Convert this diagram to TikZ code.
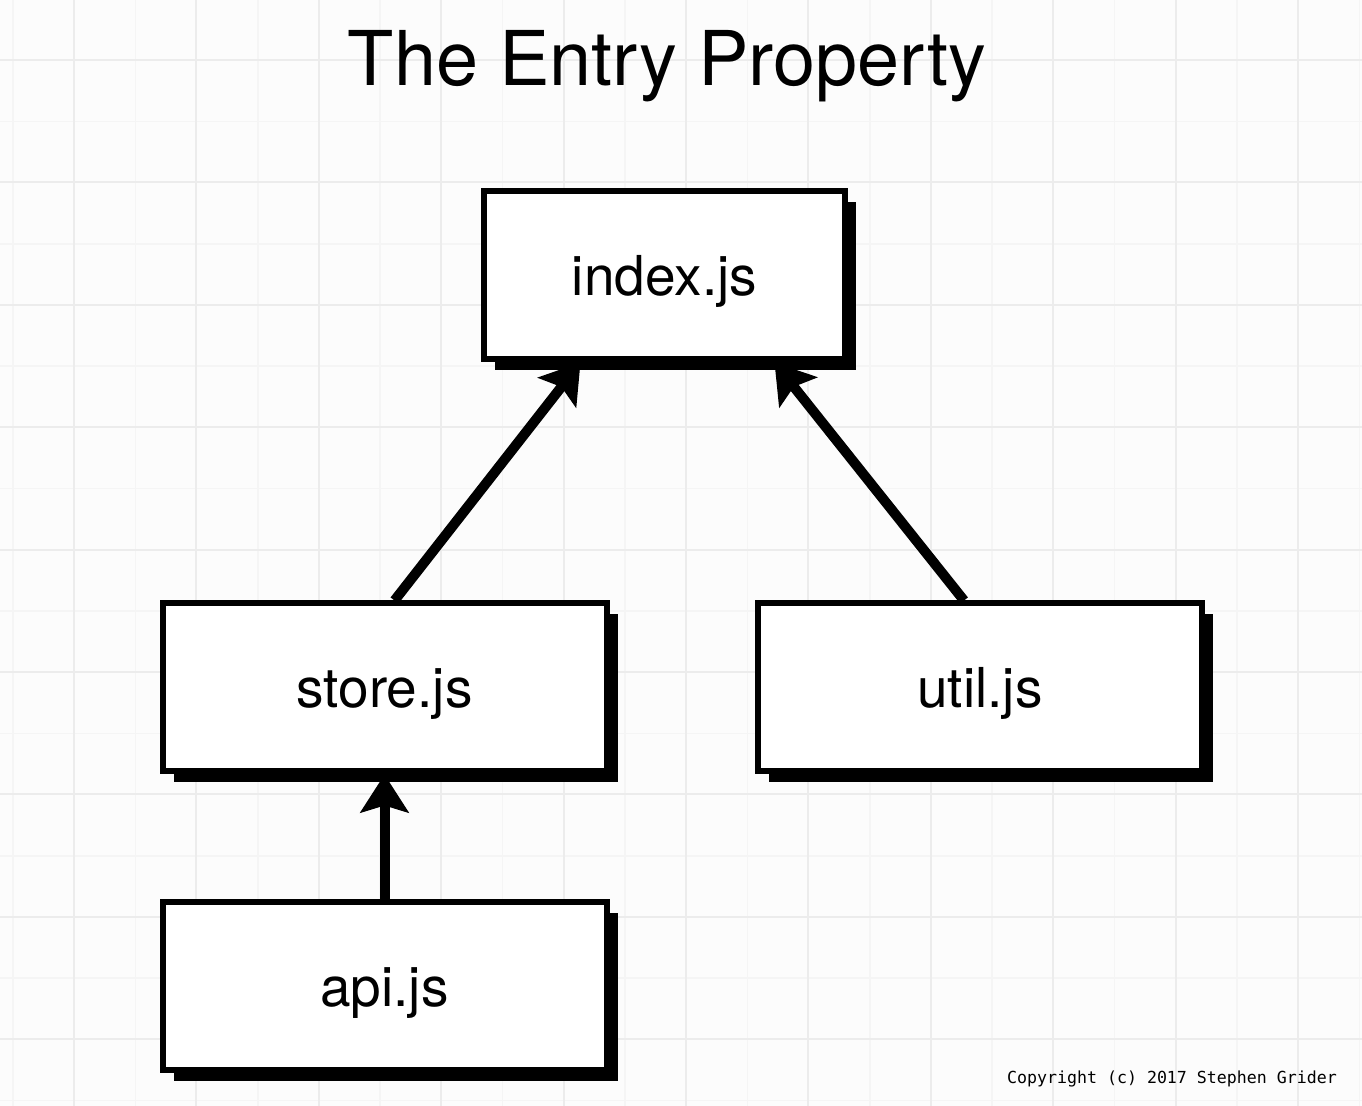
\documentclass[tikz,border=0pt]{standalone}
\usepackage{fontspec}
\setmainfont{TeX Gyre Heros}
\newfontfamily\copyfont{DejaVu Sans Mono}
\usetikzlibrary{arrows.meta,shadows,positioning}
\definecolor{paper}{HTML}{FCFCFC}
\definecolor{gridmajor}{HTML}{ECECEC}
\definecolor{gridminor}{HTML}{F5F5F5}
\tikzstyle{box} = [rectangle, minimum width=222pt, minimum height=84pt, draw=black, line width=3pt, fill=white, align=center, text height=24pt, text depth=4pt, font=\fontsize{27.5}{30}\selectfont, drop shadow={fill=black, opacity=1, shadow xshift=5.5pt, shadow yshift=-5.5pt}]
\tikzstyle{arrow} = [line width=5pt, -{Stealth[length=19pt,width=24pt,inset=3.5pt]}]
\tikzstyle{minorline} = [draw=gridminor, line width=0.8pt]
\tikzstyle{majorline} = [draw=gridmajor, line width=1pt]

\begin{document}
\begin{tikzpicture}[x=0.5pt, y=-0.5pt, node distance=1cm]
        % paper and grid
        \useasboundingbox (0,0) rectangle (1362,1106);
        \fill[paper] (0,0) rectangle (1362,1106);
        \foreach \i in {0,...,22} \draw[minorline] ({13+61.2*\i},0) -- ({13+61.2*\i},1106);
        \foreach \i in {0,...,18} \draw[minorline] (0,{-1+61.2*\i}) -- (1362,{-1+61.2*\i});
        \foreach \i in {0,...,10} \draw[majorline] ({74+122.4*\i},0) -- ({74+122.4*\i},1106);
        \foreach \i in {0,...,8} \draw[majorline] (0,{60+122.4*\i}) -- (1362,{60+122.4*\i});
        
        \node (title) at (667,86) [anchor=base, font=\fontsize{37.8}{40}\selectfont] {The Entry Property};
        
        \node (index) [box, minimum width=180.5pt] at (664.5,275.5) {index.js};
        \node (store) [box] at (384.5,687.5) {store.js};
        \node (util) [box, right=72.75pt of store] {util.js};
        \node (api) [box, below=62.5pt of store] {api.js};
        
        \draw[arrow] ([xshift=5pt]store.north) -- ([xshift=-42pt]index.south);
        \draw[arrow] ([xshift=-8pt]util.north) -- ([xshift=55pt]index.south);
        \draw[arrow] (api) -- (store);
        
        \node (copy) at (1172,1079) [font=\copyfont\fontsize{8.3}{10}\selectfont] {Copyright (c) 2017 Stephen Grider};
        
    \end{tikzpicture}
\end{document}
